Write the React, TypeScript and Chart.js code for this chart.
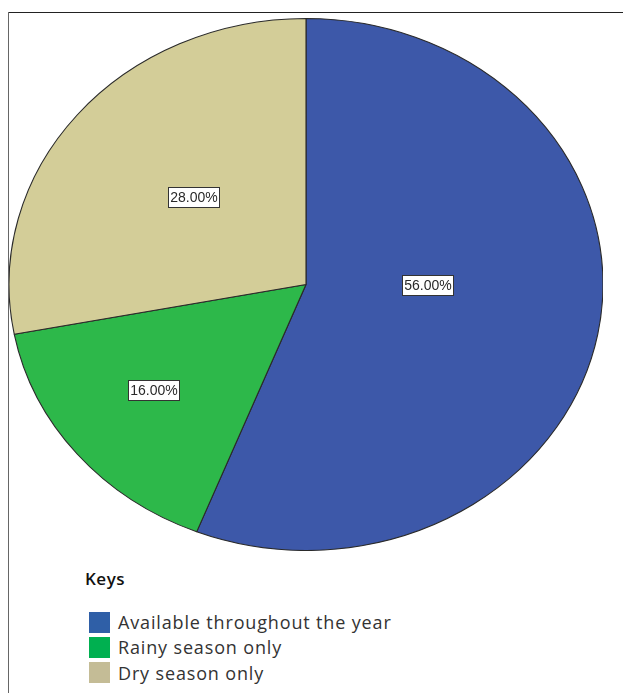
import React, { useEffect, useRef } from "react";
import { Chart, registerables } from "chart.js";

Chart.register(...registerables);

const categories = ["Available throughout the year", "Rainy season only", "Dry season only"];
const percentages = [56, 16, 28];
const sliceColors = ["#3d58a9", "#2db84a", "#d3cd98"];
const legendColors = ["#2f5fa7", "#00b050", "#c4bc96"];
const labelTexts = ["56.00%", "16.00%", "28.00%"];
const keysTitle = "Keys";

// label placement (fraction of radius, angular offset in degrees) per slice
const labelPlacement = [
  { frac: 0.41, dAngle: -10.3 },
  { frac: 0.65, dAngle: 2 },
  { frac: 0.5, dAngle: 1.3 },
];

const STRETCH_X = 297 / 266;

const ellipsePlugin = {
  id: "ellipse",
  beforeDatasetsDraw(chart: any) {
    const { ctx, chartArea } = chart;
    const cx = (chartArea.left + chartArea.right) / 2;
    ctx.save();
    ctx.translate(cx, 0);
    ctx.scale(STRETCH_X, 1);
    ctx.translate(-cx, 0);
  },
  afterDatasetsDraw(chart: any) {
    chart.ctx.restore();
  },
};

const labelPlugin = {
  id: "sliceLabels",
  afterDraw(chart: any) {
    const { ctx } = chart;
    const meta = chart.getDatasetMeta(0);
    meta.data.forEach((arc: any, i: number) => {
      const p = arc.getProps(["x", "y", "startAngle", "endAngle", "outerRadius"], true);
      const mid = (p.startAngle + p.endAngle) / 2 + (labelPlacement[i].dAngle * Math.PI) / 180;
      const r = p.outerRadius * labelPlacement[i].frac;
      const px = p.x + Math.cos(mid) * r * STRETCH_X;
      const py = p.y + Math.sin(mid) * r;
      const text = labelTexts[i];
      ctx.save();
      ctx.font = "14px 'Liberation Sans', Arial, sans-serif";
      const w = Math.round(ctx.measureText(text).width + 4);
      const h = 20;
      const bx = Math.round(px - w / 2) + 0.5;
      const by = Math.round(py - h / 2) + 0.5;
      ctx.fillStyle = "#ffffff";
      ctx.fillRect(bx, by, w, h);
      ctx.strokeStyle = "#333333";
      ctx.lineWidth = 1;
      ctx.strokeRect(bx, by, w, h);
      ctx.fillStyle = "#2a2a2a";
      ctx.textAlign = "center";
      ctx.textBaseline = "middle";
      ctx.fillText(text, bx + w / 2, by + h / 2 + 0.5);
      ctx.restore();
    });
  },
};

export default function App() {
  const canvasRef = useRef<HTMLCanvasElement | null>(null);

  useEffect(() => {
    if (!canvasRef.current) return;
    const chart = new Chart(canvasRef.current, {
      type: "pie",
      data: {
        labels: categories,
        datasets: [
          {
            data: percentages,
            backgroundColor: sliceColors,
            borderColor: "#2a2a2a",
            borderWidth: 1,
          },
        ],
      },
      options: {
        responsive: false,
        animation: false,
        layout: { padding: 0 },
        plugins: {
          legend: { display: false },
          tooltip: { enabled: false },
        },
      },
      plugins: [ellipsePlugin, labelPlugin],
    });
    return () => chart.destroy();
  }, []);

  return (
    <div
      style={{
        position: "absolute",
        left: 0,
        top: 0,
        width: 623,
        height: 693,
        background: "#ffffff",
        overflow: "hidden",
        fontFamily: "'Open Sans', sans-serif",
      }}
    >
      <div style={{ position: "absolute", left: 8, top: 12, width: 615, height: 1, background: "#222" }} />
      <div style={{ position: "absolute", left: 8, top: 12, width: 1, height: 681, background: "#666" }} />
      <canvas
        ref={canvasRef}
        width={594}
        height={533}
        style={{ position: "absolute", left: 9, top: 18 }}
      />
      <div
        style={{
          position: "absolute",
          left: 85,
          top: 567,
          fontSize: 17,
          fontWeight: 600,
          letterSpacing: 0.5,
          color: "#111",
        }}
      >
        {keysTitle}
      </div>
      {categories.map((c, i) => (
        <div
          key={c}
          style={{ position: "absolute", left: 89, top: 611 + i * 25.3, height: 22, display: "flex", alignItems: "center" }}
        >
          <div style={{ width: 21, height: 21, background: legendColors[i] }} />
          <span
            style={{
              marginLeft: 8,
              fontSize: 18,
              letterSpacing: 0.85,
              color: "#333",
              lineHeight: "22px",
              whiteSpace: "nowrap",
            }}
          >
            {c}
          </span>
        </div>
      ))}
    </div>
  );
}
